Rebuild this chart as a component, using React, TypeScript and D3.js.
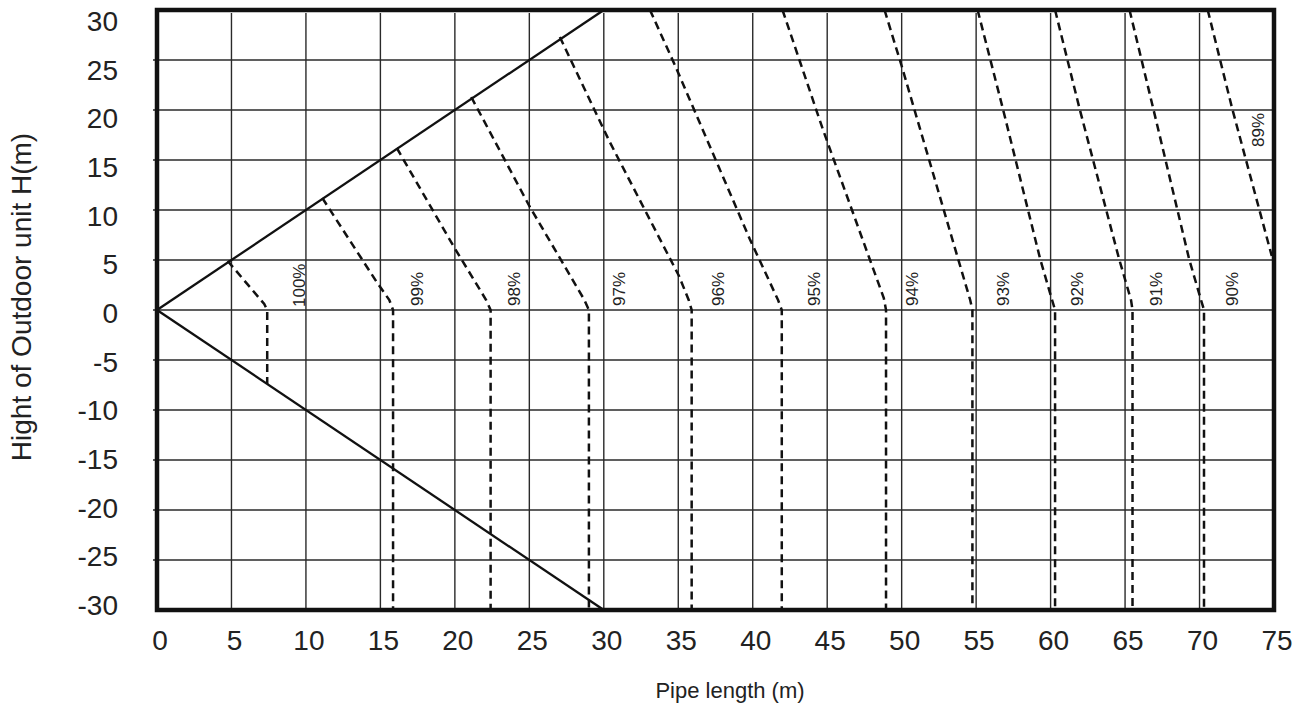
import React from "react";
import * as d3 from "d3";

const W = 1306;
const H = 713;

const xTicks = d3.range(0, 76, 5);
const yTicks = d3.range(-30, 31, 5);

const upperBoundary: [number, number][] = [[0, 0], [30, 30]];
const lowerBoundary: [number, number][] = [[0, 0], [30, -30]];

const efficiencyLabels = ["100%", "99%", "98%", "97%", "96%", "95%", "94%", "93%", "92%", "91%", "90%", "89%"];

const curve100: [number, number][] = [[4.75, 4.9], [7.2, 0.6], [7.4, 0], [7.4, -7.4]];
const curve99: [number, number][] = [[11.1, 11.2], [14.75, 2.8], [15.6, 1.0], [15.85, 0], [15.85, -30]];
const curve98: [number, number][] = [[16.1, 16.2], [19.9, 6.4], [22.1, 1.0], [22.4, 0], [22.4, -30]];
const curve97: [number, number][] = [[21.1, 21.3], [25.0, 10.4], [28.7, 1.0], [29.0, 0], [29.0, -30]];
const curve96: [number, number][] = [[27.05, 27.3], [30.4, 16.8], [35.05, 3.4], [35.7, 1.0], [35.9, 0], [35.9, -30]];
const curve95: [number, number][] = [[33.1, 30], [34.8, 24.4], [39.8, 7.1], [41.7, 1.0], [41.95, 0], [41.95, -30]];
const curve94: [number, number][] = [[42.0, 30], [44.7, 18.1], [47.85, 5.1], [48.8, 1.2], [48.95, 0], [48.95, -30]];
const curve93: [number, number][] = [[48.85, 30], [50.0, 24.4], [53.2, 8.1], [54.6, 1.0], [54.75, 0], [54.75, -30]];
const curve92: [number, number][] = [[55.1, 30], [56.8, 20.1], [59.3, 5.1], [60.1, 1.0], [60.3, 0], [60.3, -30]];
const curve91: [number, number][] = [[60.3, 30], [61.95, 20.1], [64.6, 5.1], [65.4, 1.0], [65.5, 0], [65.5, -30]];
const curve90: [number, number][] = [[65.3, 30], [66.9, 20.1], [69.3, 5.1], [70.1, 1.0], [70.3, 0], [70.3, -30]];
const curve89: [number, number][] = [[70.55, 30], [72.2, 20.1], [74.85, 5.4]];

const curves = [curve100, curve99, curve98, curve97, curve96, curve95, curve94, curve93, curve92, curve91, curve90, curve89];

// label anchor in data coordinates (pipe length, height)
const labelL = [9.93, 17.85, 24.36, 31.4, 38.1, 44.5, 51.1, 57.2, 62.2, 67.5, 72.55, 74.3];
const labelH = [0.3, 0.4, 0.4, 0.4, 0.4, 0.4, 0.4, 0.4, 0.4, 0.4, 0.4, 16.3];

const FONT = "'Liberation Sans', Arial, Helvetica, sans-serif";

export default function App() {
  const x = d3.scaleLinear().domain([0, 75]).range([157, 1274]);
  const y = d3.scaleLinear().domain([-30, 30]).range([610, 10]);
  const yLab = d3.scaleLinear().domain([-30, 30]).range([605, 21]);
  const line = d3
    .line<[number, number]>()
    .x((d) => x(d[0]))
    .y((d) => y(d[1]));

  return (
    <svg
      width={W}
      height={H}
      style={{ position: "absolute", left: 0, top: 0, background: "#fff" }}
      fontFamily={FONT}
    >
      <rect x={0} y={0} width={W} height={H} fill="#fff" />
      {/* grid */}
      <g stroke="#2a2a2a" strokeWidth={1.4}>
        {xTicks.filter((t) => t > 0 && t < 75).map((t) => (
          <line key={"gx" + t} x1={x(t)} x2={x(t)} y1={y(30) + 3} y2={y(-30)} />
        ))}
        {yTicks.filter((t) => t > -30 && t < 30).map((t) => (
          <line key={"gy" + t} x1={x(0) - 4} x2={x(75)} y1={y(t)} y2={y(t)} />
        ))}
      </g>
      {/* boundaries */}
      <path d={line(upperBoundary) || ""} fill="none" stroke="#111" strokeWidth={2.3} />
      <path d={line(lowerBoundary) || ""} fill="none" stroke="#111" strokeWidth={2.3} />
      {/* efficiency curves */}
      {curves.map((c, i) => (
        <path
          key={"c" + i}
          d={line(c) || ""}
          fill="none"
          stroke="#111"
          strokeWidth={2.5}
          strokeDasharray="8,5"
        />
      ))}
      {/* frame */}
      <rect
        x={x(0)}
        y={y(30)}
        width={x(75) - x(0)}
        height={y(-30) - y(30)}
        fill="none"
        stroke="#111"
        strokeWidth={4.5}
      />
      {/* curve labels */}
      {efficiencyLabels.map((lab, i) => (
        <text
          key={"l" + i}
          transform={`translate(${x(labelL[i])},${y(labelH[i])}) rotate(-90)`}
          fontSize={17}
          fill="#222"
        >
          {lab}
        </text>
      ))}
      {/* y tick labels */}
      {yTicks.map((t) => (
        <text
          key={"yt" + t}
          x={118}
          y={yLab(t)}
          dy="0.36em"
          textAnchor="end"
          fontSize={28}
          fill="#222"
        >
          {t}
        </text>
      ))}
      {/* x tick labels */}
      {xTicks.map((t) => (
        <text
          key={"xt" + t}
          x={x(t) + 3}
          y={650}
          textAnchor="middle"
          fontSize={28}
          fill="#222"
        >
          {t}
        </text>
      ))}
      <text x={730} y={698} textAnchor="middle" fontSize={22} fill="#222">
        Pipe length (m)
      </text>
      <text
        transform={`translate(31,297) rotate(-90)`}
        textAnchor="middle"
        fontSize={28}
        fill="#222"
      >
        Hight of Outdoor unit H(m)
      </text>
    </svg>
  );
}
